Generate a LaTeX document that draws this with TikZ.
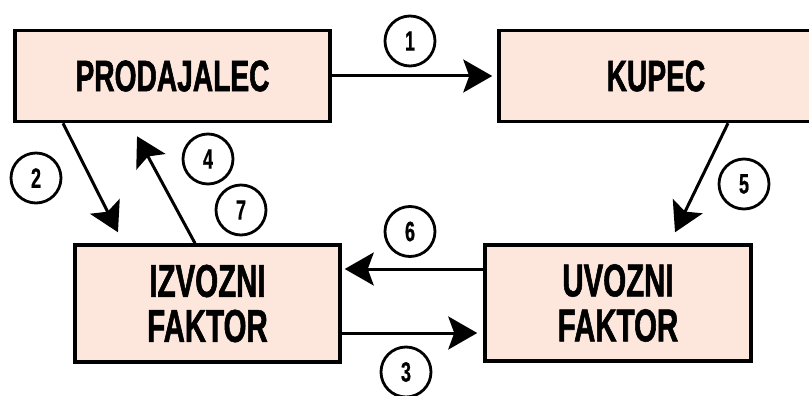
\documentclass[tikz,border=0pt]{standalone}
\usepackage{fontspec}
\usetikzlibrary{arrows.meta}
\newfontfamily\boxfont[FakeStretch=0.64,FakeBold=1.2]{Liberation Sans Bold}
\newfontfamily\numfont[FakeStretch=0.64,FakeBold=0.6]{Liberation Sans Bold}
\definecolor{boxfill}{RGB}{253,231,221}
\begin{document}
\begin{tikzpicture}[x=1pt,y=-1pt,
  box/.style={draw=black,line width=3.5pt,fill=boxfill,rectangle,inner sep=0pt,align=center},
  toptext/.style={font=\boxfont\fontsize{44}{45}\selectfont},
  bottext/.style={font=\boxfont\fontsize{46}{45}\selectfont},
  num/.style={draw=black,line width=2.8pt,circle,minimum size=50pt,inner sep=0pt,font=\numfont\fontsize{28}{28}\selectfont},
  arr/.style={line width=3pt,-{Stealth[length=29pt,width=33pt,inset=6pt]}}]
\useasboundingbox (0,0) rectangle (809,396);
\clip (0,0) rectangle (809,396);
\fill[white] (0,0) rectangle (809,396);
\node[box,toptext,minimum width=315pt,minimum height=91pt] (P) at (172.5,76) {PRODAJALEC};
\node[box,toptext,minimum width=314pt,minimum height=91pt] (K) at (656,76) {KUPEC};
\node[box,bottext,minimum width=265pt,minimum height=117pt] (I) at (207.5,303.5) {IZVOZNI\\FAKTOR};
\node[box,bottext,minimum width=266pt,minimum height=116pt] (U) at (618,303) {UVOZNI\\FAKTOR};
\node[num] (n1) at (410,41) {1};
\node[num] (n2) at (36,178) {2};
\node[num] (n3) at (406,372) {3};
\node[num] (n4) at (208,159) {4};
\node[num] (n5) at (744,184) {5};
\node[num] (n6) at (410,231.5) {6};
\node[num] (n7) at (241,210) {7};
\draw[arr,shorten >=5pt] (P.east) -- (K.west);
\draw[arr,shorten >=3pt] (U.west |- 0,269) -- (I.east |- 0,269);
\draw[arr,shorten >=6pt] (I.east |- 0,333) -- (U.west |- 0,333);
\draw[arr,shorten >=12.3pt] (P.south -| 63,0) -- (I.north -| 123.5,0);
\draw[arr,shorten >=14.8pt] (I.north -| 195,0) -- (P.south -| 130,0);
\draw[arr,shorten >=12.2pt] (K.south -| 728,0) -- (U.north -| 669.7,0);
\end{tikzpicture}
\end{document}
